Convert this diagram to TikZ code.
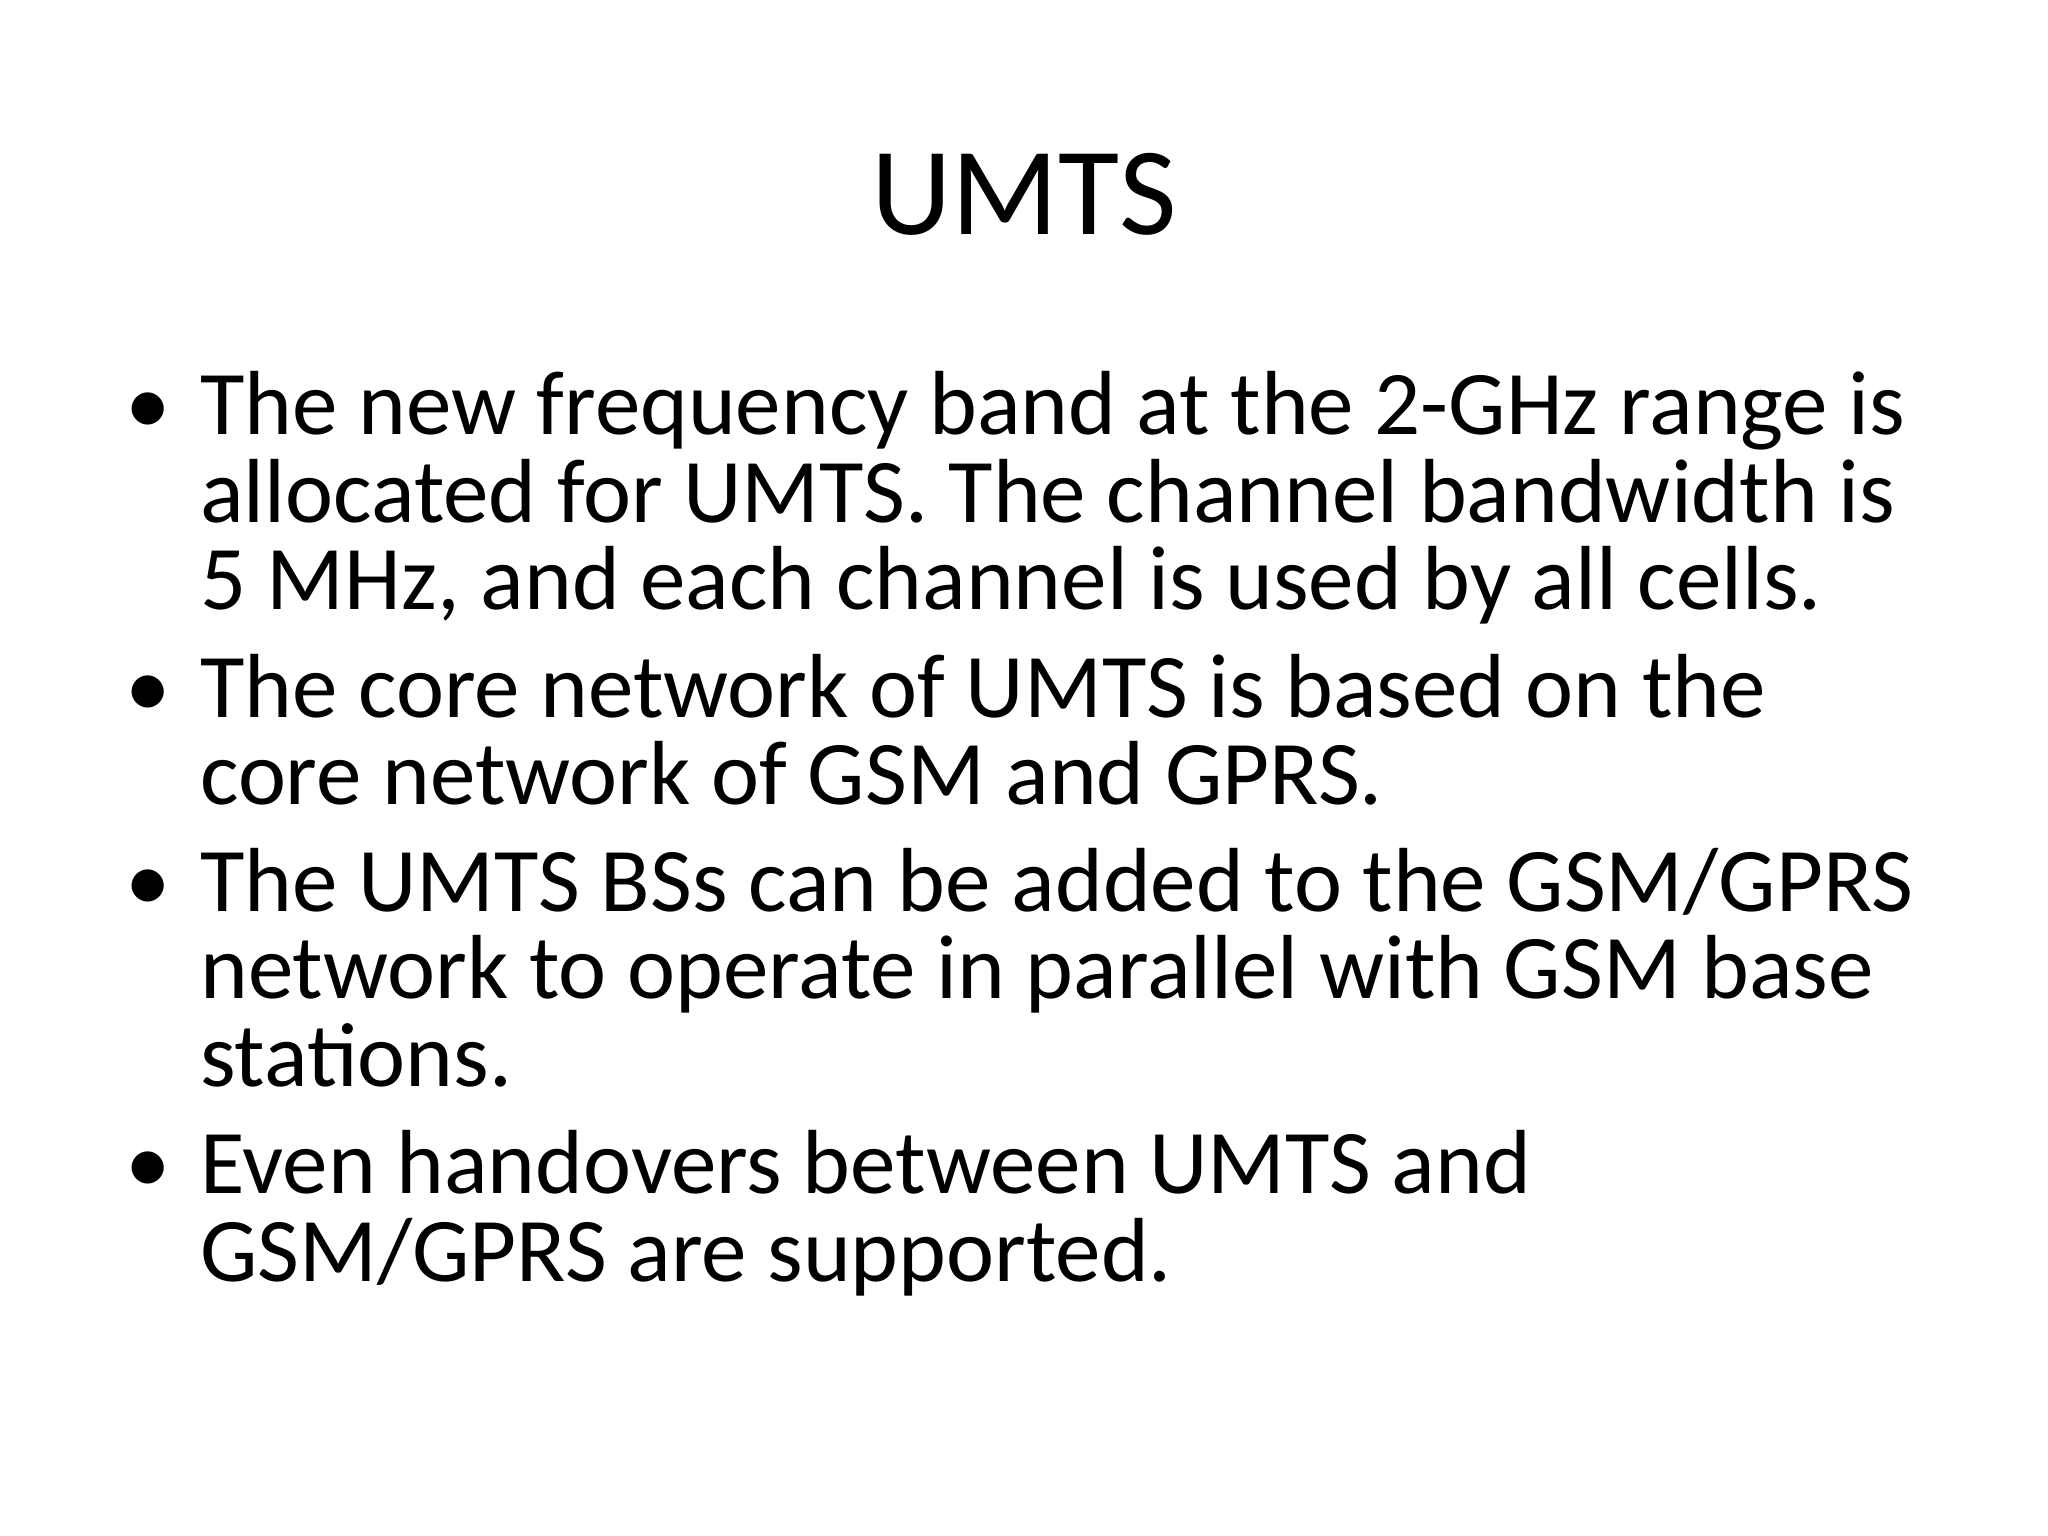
\documentclass[tikz,border=0pt]{standalone}
\usepackage{fontspec}
\setmainfont{Carlito}
\begin{document}
\begin{tikzpicture}[x=1pt,y=1pt,
  body/.style={anchor=base west,inner sep=0pt,font=\fontsize{32}{32}\selectfont},
  bul/.style={anchor=base west,inner sep=0pt,font=\fontsize{32}{32}\selectfont}]
\useasboundingbox[fill=white] (0,0) rectangle (720,-540);
\node[anchor=base,inner sep=0pt,font=\fontsize{44}{44}\selectfont] (title) at (360,-82.6) {UMTS};
\foreach \n/\y in {b1/152.9,b2/252.1,b3/320.5,b4/419.7}{
  \node[bul] (\n) at (44,-\y) {\textbullet};}
\node[body] (l1) at (70.2,-152.9) {The new frequency band at the 2-GHz range is};
\node[body] (l2) at (70.2,-183.7) {allocated for UMTS. The channel bandwidth is};
\node[body] (l3) at (70.2,-214.4) {5 MHz, and each channel is used by all cells.};
\node[body] (l4) at (70.2,-252.1) {The core network of UMTS is based on the};
\node[body] (l5) at (70.2,-282.8) {core network of GSM and GPRS.};
\node[body] (l6) at (70.2,-320.5) {The UMTS BSs can be added to the GSM/GPRS};
\node[body] (l7) at (70.2,-351.2) {network to operate in parallel with GSM base};
\node[body] (l8) at (70.2,-382.0) {stations.};
\node[body] (l9) at (70.2,-419.7) {Even handovers between UMTS and};
\node[body] (l10) at (70.2,-450.4) {GSM/GPRS are supported.};
\end{tikzpicture}
\end{document}
